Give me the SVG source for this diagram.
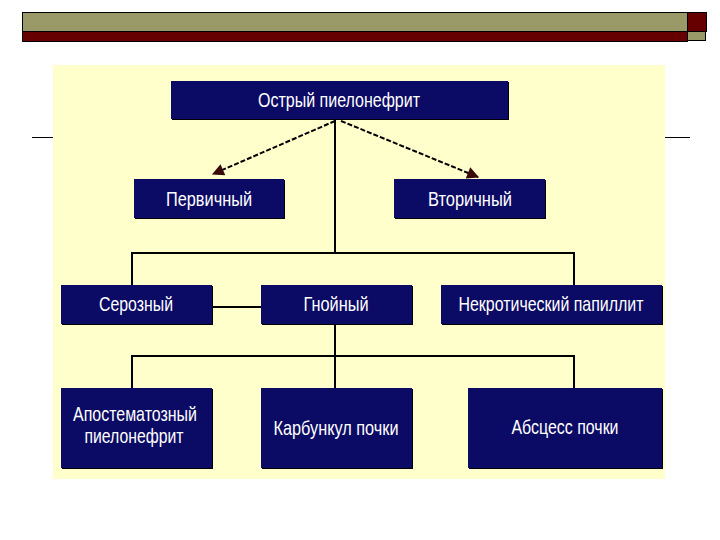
<svg xmlns="http://www.w3.org/2000/svg" width="720" height="540" viewBox="0 0 720 540">
<style>
.box{fill:#0B0A64}
.sh{fill:#000}
.t{fill:#fff;font-family:"Liberation Sans",Arial,sans-serif;font-size:21px;text-anchor:middle}
.ln{stroke:#000;stroke-width:2;fill:none}
.ds{stroke:#000;stroke-width:2;fill:none;stroke-dasharray:5 2}
</style>
<defs>
<marker id="ah" viewBox="0 0 10 10" refX="9" refY="5" markerWidth="7" markerHeight="6" orient="auto" markerUnits="strokeWidth">
<path d="M0,0 L10,5 L0,10 Z" fill="#3A0A0A"/>
</marker>
</defs>
<rect width="720" height="540" fill="#fff"/>
<g id="header">
<rect x="22.5" y="12.5" width="665" height="19" fill="#9A9A68" stroke="#000" stroke-width="1"/>
<rect x="22.5" y="31.5" width="665" height="10" fill="#660000" stroke="#000" stroke-width="1"/>
<rect x="687.5" y="12.5" width="19" height="19" fill="#660000" stroke="#000" stroke-width="1"/>
<rect x="687.5" y="31.5" width="18" height="9" fill="#9A9A68" stroke="#000" stroke-width="1"/>
</g>
<line x1="32" y1="137.5" x2="690" y2="137.5" stroke="#000" stroke-width="1"/>
<rect id="panel" x="53" y="65" width="612" height="414" fill="#FFFFCC"/>
<g id="connectors">
<line class="ds" x1="335" y1="121" x2="213" y2="174" marker-end="url(#ah)"/>
<line class="ds" x1="341" y1="121" x2="478" y2="177" marker-end="url(#ah)"/>
<polyline class="ln" points="335,119 335,253"/>
<polyline class="ln" points="132,285 132,253 574,253 574,285"/>
<line class="ln" x1="212" y1="307" x2="261" y2="307"/>
<polyline class="ln" points="335,324 335,388"/>
<polyline class="ln" points="132,388 132,356 574,356 574,388"/>
</g>
<g id="n-root"><rect class="sh" x="172" y="82" width="337" height="38"/><rect class="box" x="171" y="81" width="337" height="38"/><text class="t" x="339" y="107" textLength="162" lengthAdjust="spacingAndGlyphs">Острый пиелонефрит</text></g>
<g id="n-primary"><rect class="sh" x="135" y="180" width="150" height="39"/><rect class="box" x="134" y="179" width="150" height="39"/><text class="t" x="209" y="206" textLength="86" lengthAdjust="spacingAndGlyphs">Первичный</text></g>
<g id="n-secondary"><rect class="sh" x="395" y="180" width="151" height="39"/><rect class="box" x="394" y="179" width="151" height="39"/><text class="t" x="470" y="206" textLength="84" lengthAdjust="spacingAndGlyphs">Вторичный</text></g>
<g id="n-serous"><rect class="sh" x="62" y="286" width="151" height="39"/><rect class="box" x="61" y="285" width="151" height="39"/><text class="t" x="136" y="311" textLength="74" lengthAdjust="spacingAndGlyphs">Серозный</text></g>
<g id="n-purulent"><rect class="sh" x="262" y="286" width="151" height="39"/><rect class="box" x="261" y="285" width="151" height="39"/><text class="t" x="336" y="311" textLength="65" lengthAdjust="spacingAndGlyphs">Гнойный</text></g>
<g id="n-necrotic"><rect class="sh" x="442" y="286" width="221" height="39"/><rect class="box" x="441" y="285" width="221" height="39"/><text class="t" x="551" y="311" textLength="185" lengthAdjust="spacingAndGlyphs">Некротический папиллит</text></g>
<g id="n-apostem"><rect class="sh" x="62" y="389" width="151" height="80"/><rect class="box" x="61" y="388" width="151" height="80"/><text class="t" x="135" y="421" textLength="124" lengthAdjust="spacingAndGlyphs">Апостематозный</text><text class="t" x="134" y="443" textLength="99" lengthAdjust="spacingAndGlyphs">пиелонефрит</text></g>
<g id="n-carbuncle"><rect class="sh" x="262" y="389" width="151" height="80"/><rect class="box" x="261" y="388" width="151" height="80"/><text class="t" x="336" y="435" textLength="125" lengthAdjust="spacingAndGlyphs">Карбункул почки</text></g>
<g id="n-abscess"><rect class="sh" x="469" y="389" width="194" height="80"/><rect class="box" x="468" y="388" width="194" height="80"/><text class="t" x="565" y="434" textLength="107" lengthAdjust="spacingAndGlyphs">Абсцесс почки</text></g>
</svg>
